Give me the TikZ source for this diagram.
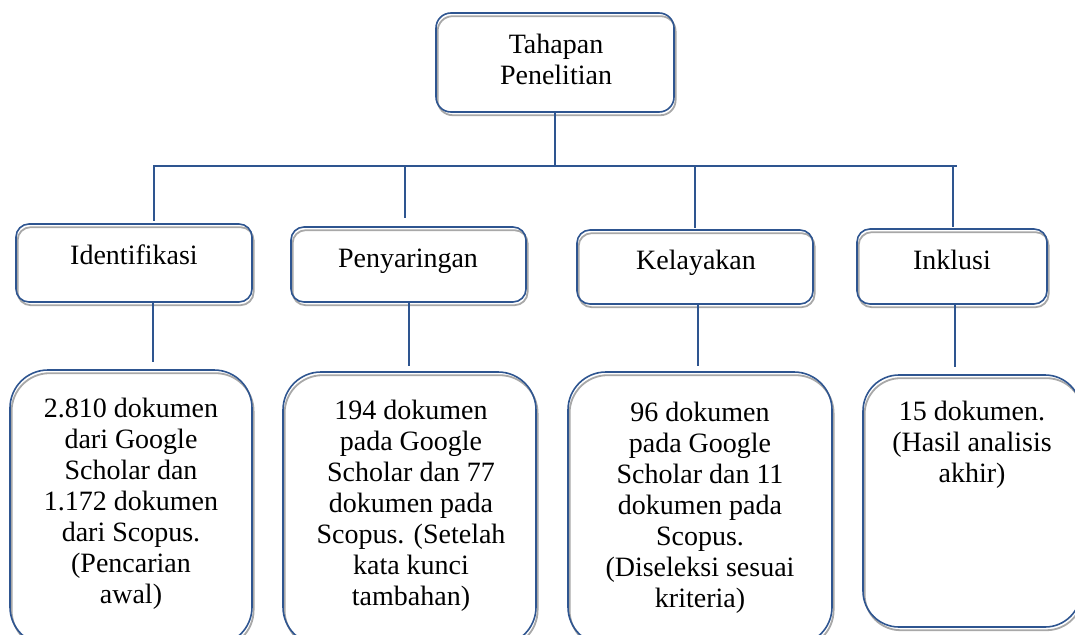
\documentclass[tikz,border=0pt]{standalone}
\usepackage{fontspec}
\setmainfont{Liberation Serif}
\usetikzlibrary{shadows}
\definecolor{dblue}{HTML}{2E5590}
\definecolor{sgray}{HTML}{A8A8A8}
\begin{document}
\begin{tikzpicture}[x=1pt,y=-1pt,
  card/.style={draw=dblue, line width=1.6pt, inner sep=0pt, rounded corners=#1,
     drop shadow={shadow xshift=1.6pt, shadow yshift=-3.2pt, opacity=1, fill=none, draw=sgray, line width=1.8pt}},
  card/.default=13pt,
  lbl/.style={font=\fontsize{28}{31}\selectfont, align=center, anchor=base, inner sep=0pt},
  conn/.style={draw=dblue, line width=1.6pt}]
\useasboundingbox (0,0) rectangle (1075,634);
\clip (0,0) rectangle (1075,634);

% boxes
\node[card=15pt, minimum width=238pt, minimum height=99pt] (top) at (555,62.5) {};
\node[card, minimum width=236pt, minimum height=78pt] (ident) at (134,263) {};
\node[card, minimum width=235pt, minimum height=75pt] (peny) at (408.5,264.5) {};
\node[card, minimum width=236pt, minimum height=74pt] (kel) at (695,267) {};
\node[card, minimum width=190pt, minimum height=75pt] (ink) at (952,266.5) {};
\node[card=38pt, minimum width=242pt, minimum height=275pt] (b1) at (131,507.5) {};
\node[card=38pt, minimum width=253pt, minimum height=273pt] (b2) at (409.5,508.5) {};
\node[card=38pt, minimum width=264pt, minimum height=273pt] (b3) at (700,508.5) {};
\node[card=36pt, minimum width=218pt, minimum height=252pt] (b4) at (972,501) {};

% texts (anchor = baseline of the last line)
\node[lbl] (ttop) at (556,84) {Tahapan\\Penelitian};
\node[lbl] (tident) at (134,264) {Identifikasi};
\node[lbl] (tpeny) at (408,267) {Penyaringan};
\node[lbl] (tkel) at (696,269) {Kelayakan};
\node[lbl] (tink) at (952,269) {Inklusi};
\node[lbl] (tb1) at (131,603) {2.810 dokumen\\dari Google\\Scholar dan\\1.172 dokumen\\dari Scopus.\\(Pencarian\\awal)};
\node[lbl] (tb2) at (411,605) {194 dokumen\\pada Google\\Scholar dan 77\\dokumen pada\\Scopus. (Setelah\\kata kunci\\tambahan)};
\node[lbl] (tb3) at (700,607) {96 dokumen\\pada Google\\Scholar dan 11\\dokumen pada\\Scopus.\\(Diseleksi sesuai\\kriteria)};
\node[lbl] (tb4) at (972,482) {15 dokumen.\\(Hasil analisis\\akhir)};

% connectors
\coordinate (hL) at (153,166);
\coordinate (hR) at (957,166);
\draw[conn] (hL) -- (hR);
\draw[conn] (top.south) -- (top.south |- hL);
\coordinate (d1) at (154,166);
\coordinate (d2) at (405,166);
\coordinate (d3) at (695,166);
\coordinate (d4) at (953,166);
\draw[conn, shorten >=2pt] (d1) -- (d1 |- ident.north);
\draw[conn, shorten >=8pt] (d2) -- (d2 |- peny.north);
\draw[conn, shorten >=1pt] (d3) -- (d3 |- kel.north);
\draw[conn, shorten >=1pt] (d4) -- (d4 |- ink.north);
\coordinate (u1) at (153,0);
\coordinate (u2) at (409,0);
\coordinate (u3) at (698,0);
\coordinate (u4) at (955,0);
\draw[conn, shorten >=7pt] (ident.south -| u1) -- (b1.north -| u1);
\draw[conn, shorten >=5pt] (peny.south -| u2) -- (b2.north -| u2);
\draw[conn, shorten >=5pt] (kel.south -| u3) -- (b3.north -| u3);
\draw[conn, shorten >=7pt] (ink.south -| u4) -- (b4.north -| u4);
\end{tikzpicture}
\end{document}
